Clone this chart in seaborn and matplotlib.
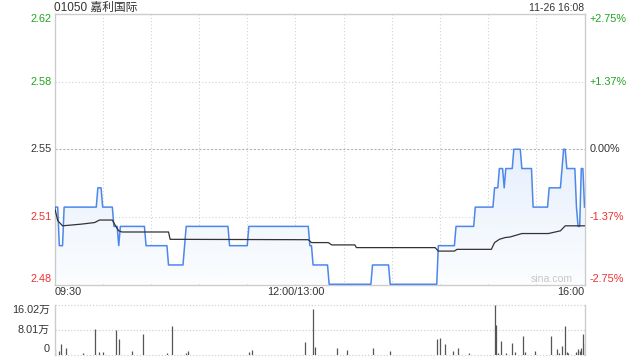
import numpy as np
import matplotlib
matplotlib.use("Agg")
import matplotlib.pyplot as plt
import matplotlib.transforms as mtransforms
from matplotlib.colors import LinearSegmentedColormap
import seaborn as sns

# ---------------- data ----------------
title = "01050 嘉利国际"
timestamp = "11-26 16:08"
watermark = "sina.com"
prev_close = 2.55
total_minutes = 330

pct_levels = [2.75, 1.37, 0.0, -1.37, -2.75]
price_labels = ["2.62", "2.58", "2.55", "2.51", "2.48"]
pct_labels = ["+2.75%", "+1.37%", "0.00%", "-1.37%", "-2.75%"]
label_kinds = ["up", "up", "flat", "down", "down"]

time_labels = ["09:30", "12:00/13:00", "16:00"]
time_label_minutes = [0, 150, 330]
grid_minutes = [30, 60, 90, 120, 150, 180, 210, 240, 270, 300]

# price as runs: minute where a new price level starts, and that level
run_start = [0, 3, 6, 27, 30, 37, 40, 41, 57, 71, 81, 82, 109, 121, 159, 161,
             171, 198, 209, 239, 250, 262, 274, 277, 280, 281, 286, 291, 298,
             308, 316, 317, 319, 325, 326, 328, 330]
run_price = [2.52, 2.50, 2.52, 2.53, 2.52, 2.51, 2.50, 2.51, 2.50, 2.49, 2.50,
             2.51, 2.50, 2.51, 2.50, 2.49, 2.48, 2.49, 2.48, 2.50, 2.51, 2.52,
             2.53, 2.54, 2.53, 2.54, 2.55, 2.54, 2.52, 2.53, 2.54, 2.55, 2.54,
             2.52, 2.51, 2.54, 2.52]

# average price line (read at its bends)
avg_minutes = [0, 2, 5, 17, 25, 28, 36, 38, 40, 42, 71, 72, 158, 160, 170.5,
               172.6, 187, 188, 237, 239, 249, 250.6, 272, 274, 277, 280.5,
               283.6, 291, 307.5, 315, 318, 330]
avg_price = [2.520, 2.513, 2.5103, 2.5112, 2.512, 2.5133, 2.5133, 2.5103,
             2.5077, 2.5071, 2.5071, 2.5033, 2.5031, 2.5016, 2.5016, 2.5004,
             2.5004, 2.4990, 2.4990, 2.4972, 2.4972, 2.4981, 2.4981, 2.5016,
             2.5033, 2.5042, 2.5045, 2.5063, 2.5063, 2.5077, 2.5103, 2.5103]

# volume (万股)
vol_minutes = [0, 3, 4, 7, 18, 25, 28, 30, 38, 40, 48, 55, 70, 73, 82, 83,
               121, 123, 156, 161, 162, 176, 182, 198, 209, 238, 240, 243, 248,
               251, 258, 274, 275, 276, 278, 281, 285, 287, 292, 293, 299, 309,
               313, 314, 316, 318, 319, 320, 325, 326, 327, 328, 329, 330]
vol_wan = [1.73, 1.08, 3.35, 2.05, 0.5, 8.2, 0.75, 0.75, 7.9, 4.98, 1.08, 6.7,
           0.5, 9.2, 0.5, 1.08, 0.65, 1.4, 4.0, 14.7, 2.4, 2.05, 1.4, 2.05,
           1.08, 4.98, 5.3, 3.35, 1.08, 2.05, 0.5, 16.02, 9.5, 0.5, 4.3, 0.5,
           3.7, 0.75, 5.96, 0.75, 1.08, 5.96, 1.73, 0.5, 2.7, 9.2, 0.75, 0.5,
           0.75, 1.73, 1.08, 2.05, 6.6, 3.35]
vol_axis_max = 16.02
vol_tick_values = [16.02, 8.01, 0]
vol_tick_labels = ["16.02万", "8.01万", "0"]

# ---------------- style ----------------
FONT = ["Liberation Sans", "Noto Sans CJK SC", "DejaVu Sans"]
plt.rcParams["font.family"] = FONT
C_UP = "#1fa51f"
C_DOWN = "#ee3030"
C_FLAT = "#333333"
C_TXT = "#333333"
C_LINE = "#4d87ea"
C_AVG = "#333333"
C_GRID = "#d2d2d2"
C_SPINE = "#cccccc"
kind_color = {"up": C_UP, "down": C_DOWN, "flat": C_FLAT}
FS = 7.8

W, H = 640, 360
fig = plt.figure(figsize=(W / 100, H / 100), dpi=100)
fig.patch.set_facecolor("white")

L, R = 54.5, 584.5
T1, B1 = 14.0, 284.5
T2, B2 = 305.0, 354.5
ax = fig.add_axes([L / W, 1 - B1 / H, (R - L) / W, (B1 - T1) / H])
axv = fig.add_axes([L / W, 1 - B2 / H, (R - L) / W, (B2 - T2) / H])

# ---------------- price panel ----------------
minutes = np.arange(total_minutes + 1)
run_len = np.diff(run_start + [total_minutes + 1])
price = np.repeat(run_price, run_len)

lo = prev_close * (1 + pct_levels[-1] / 100)
hi = prev_close * (1 + pct_levels[0] / 100)

for m in grid_minutes:
    ax.axvline(m, color=C_GRID, lw=0.8, ls=(0, (1, 2)), zorder=0)
for p in pct_levels[1:-1]:
    yv = prev_close * (1 + p / 100)
    if p == 0:
        ax.axhline(yv, color="#b5b5b5", lw=0.8, ls=(0, (2, 1.5)), zorder=0)
    else:
        ax.axhline(yv, color=C_GRID, lw=0.8, ls=(0, (1, 2)), zorder=0)

poly = ax.fill_between(minutes, price, lo, color="none", lw=0)
cmap = LinearSegmentedColormap.from_list("g", ["#fbfdff", "#d3e2fa"])
grad = np.linspace(1, 0, 256).reshape(-1, 1)
img = ax.imshow(grad, extent=[0, total_minutes, lo, hi], aspect="auto",
                cmap=cmap, origin="upper", zorder=1, interpolation="bilinear")
img.set_clip_path(poly.get_paths()[0], transform=ax.transData)

sns.lineplot(x=minutes, y=price, ax=ax, color=C_LINE, lw=1.1,
             estimator=None, sort=False, zorder=3)
sns.lineplot(x=avg_minutes, y=avg_price, ax=ax, color=C_AVG, lw=0.9,
             estimator=None, sort=False, zorder=4)

ax.set_xlim(0, total_minutes)
ax.set_ylim(lo, hi)
ax.set_xticks([])
ax.set_yticks([])
ax.set_xlabel("")
ax.set_ylabel("")
for s in ax.spines.values():
    s.set_color(C_SPINE)
    s.set_linewidth(1.0)

ytr = mtransforms.blended_transform_factory(ax.transAxes, ax.transData)
n = len(pct_levels)
for i, (p, pl, cl, k) in enumerate(zip(pct_levels, price_labels, pct_labels, label_kinds)):
    yv = prev_close * (1 + p / 100)
    va = "top" if i == 0 else ("bottom" if i == n - 1 else "center")
    col = kind_color[k]
    ax.text(-3 / (R - L), yv, pl, transform=ytr, ha="right", va=va,
            fontsize=FS, color=col)
    ax.text(1 + 5 / (R - L), yv, cl, transform=ytr, ha="left", va=va,
            fontsize=FS, color=col)

xtr = mtransforms.blended_transform_factory(ax.transData, ax.transAxes)
has = ["left", "center", "right"]
for m, lab, ha in zip(time_label_minutes, time_labels, has):
    ax.text(m, -7.5 / (B1 - T1), lab, transform=xtr, ha=ha, va="center",
            fontsize=FS, color=C_TXT)

ax.text(1 - 11.5 / (R - L), 5.5 / (B1 - T1), watermark, transform=ax.transAxes,
        ha="right", va="center", fontsize=7.6, color="#c8c8c8", zorder=5)

fig.text(L / W, 1 - 7.5 / H, title, ha="left", va="center", fontsize=8.5,
         color=C_TXT)
fig.text(R / W, 1 - 8 / H, timestamp, ha="right", va="center", fontsize=7.5,
         color=C_TXT)

# ---------------- volume panel ----------------
for v in vol_tick_values:
    axv.axhline(v, color=C_GRID, lw=0.9, ls=(0, (1, 1.5)), zorder=0,
                clip_on=False)
axv.vlines(vol_minutes, 0, vol_wan, color="#555555", lw=0.9, zorder=2)
axv.set_xlim(0, total_minutes)
axv.set_ylim(0, vol_axis_max)
axv.set_xticks([])
axv.set_yticks([])
for side in ["top", "bottom"]:
    axv.spines[side].set_visible(False)
for side in ["left", "right"]:
    axv.spines[side].set_color(C_SPINE)
    axv.spines[side].set_linewidth(1.0)

vtr = mtransforms.blended_transform_factory(axv.transAxes, axv.transData)
for i, (v, lab) in enumerate(zip(vol_tick_values, vol_tick_labels)):
    va = "top" if i == 0 else ("bottom" if i == len(vol_tick_values) - 1 else "center")
    axv.text(-4.5 / (R - L), v, lab, transform=vtr, ha="right", va=va,
             fontsize=FS, color=C_TXT)

fig.savefig("out.png", dpi=100, facecolor="white")
